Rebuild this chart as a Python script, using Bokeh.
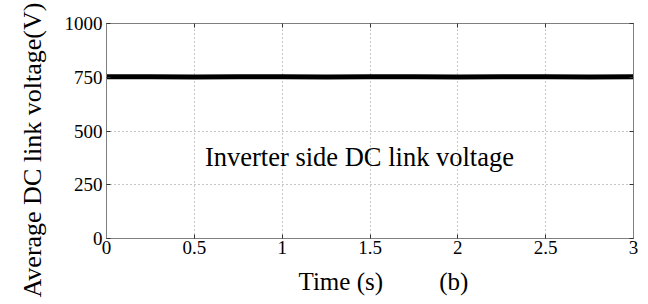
import math
from bokeh.plotting import figure
from bokeh.models import LinearAxis, FixedTicker, Range1d, Title, Label, CustomLabelingPolicy
from bokeh.embed import file_html
from bokeh.resources import INLINE

time_s = [0.0, 0.25, 0.5, 0.75, 1.0, 1.25, 1.5, 1.75, 2.0, 2.25, 2.5, 2.75, 3.0]
voltage_v = [752, 752, 751, 752, 752, 751, 752, 752, 751, 752, 752, 751, 752]
x_ticks = [0, 0.5, 1, 1.5, 2, 2.5, 3]
x_tick_labels = {0: "0", 0.5: "0.5", 1: "1", 1.5: "1.5", 2: "2", 2.5: "2.5", 3: "3"}
y_ticks = [0, 250, 500, 750, 1000]

FONT = "Liberation Serif"

p = figure(width=648, height=304, output_backend="svg", toolbar_location=None,
           x_range=Range1d(0, 3), y_range=Range1d(0, 1000),
           min_border_left=105, min_border_right=15, min_border_top=23, min_border_bottom=65)

p.line(time_s, voltage_v, line_color="black", line_width=5)

p.outline_line_color = "#7f7f7f"
p.outline_line_width = 1
p.background_fill_color = "white"
p.border_fill_color = "white"

for ax in (p.xaxis, p.yaxis):
    ax.axis_line_color = "#7f7f7f"
    ax.major_tick_in = 4
    ax.major_tick_out = 0
    ax.minor_tick_line_color = None
    ax.major_tick_line_color = "#333333"
    ax.major_label_text_font = FONT
    ax.major_label_text_font_size = "19px"
    ax.major_label_text_color = "black"

p.xaxis.ticker = FixedTicker(ticks=x_ticks)
p.xaxis.major_label_overrides = x_tick_labels
p.xaxis.major_label_standoff = 2
p.yaxis.ticker = FixedTicker(ticks=y_ticks)
p.yaxis.major_label_standoff = 4

hide = CustomLabelingPolicy(code="return new Set()")
top = LinearAxis(ticker=FixedTicker(ticks=x_ticks), major_label_policy=hide,
                 major_label_overrides={t: "" for t in x_ticks}, major_label_standoff=0,
                 major_tick_in=4, major_tick_out=0, minor_tick_line_color=None,
                 axis_line_color="#7f7f7f", major_tick_line_color="#333333")
right = LinearAxis(ticker=FixedTicker(ticks=y_ticks), major_label_policy=hide,
                   major_label_overrides={t: "" for t in y_ticks}, major_label_standoff=0,
                   major_tick_in=4, major_tick_out=0, minor_tick_line_color=None,
                   axis_line_color="#7f7f7f", major_tick_line_color="#333333")
p.add_layout(top, "above")
p.add_layout(right, "right")

p.xgrid.ticker = FixedTicker(ticks=x_ticks)
p.ygrid.ticker = FixedTicker(ticks=y_ticks)
for g in (p.xgrid, p.ygrid):
    g.grid_line_color = "#8c8c8c"
    g.grid_line_dash = "1 3"
    g.grid_line_width = 1

p.add_layout(Label(x=1.44, y=380, text="Inverter side DC link voltage",
                   text_font=FONT, text_font_size="26.5px", text_align="center",
                   text_baseline="alphabetic", text_color="black"))

p.add_layout(Title(text="Time (s)\u2003\u2003  (b)", align="left", offset=192,
                   text_font=FONT, text_font_size="25px", text_font_style="normal",
                   text_color="black", standoff=19), "below")

p.add_layout(Title(text="Average DC link voltage(V)", align="left", offset=-59,
                   text_font=FONT, text_font_size="26px", text_font_style="normal",
                   text_color="black", standoff=30), "left")

open("out.html", "w").write(file_html(p, INLINE))
